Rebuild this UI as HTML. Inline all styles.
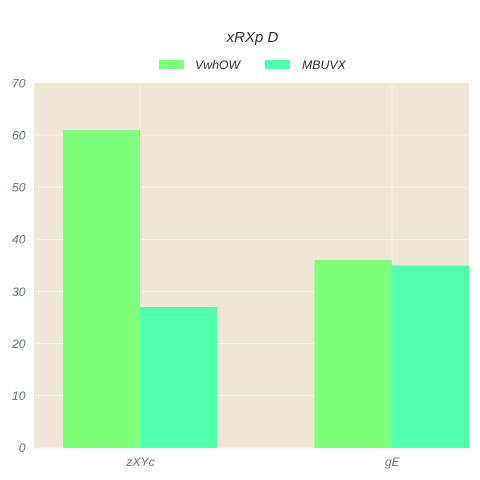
<!DOCTYPE html>
<html>
<head>
<meta charset="utf-8">
<title>xRXp D</title>
<style>
html,body{margin:0;padding:0;background:#fff;}
svg{display:block;}
text{font-family:"Liberation Sans",Arial,sans-serif;font-style:italic;}
</style>
</head>
<body>
<svg id="chart" width="480" height="480" viewBox="0 0 480 480" xmlns="http://www.w3.org/2000/svg">
<rect x="0" y="0" width="480" height="480" fill="#ffffff"/>
<text x="252.5" y="42" text-anchor="middle" font-size="15" fill="#333333">xRXp D</text>
<g id="plot"></g>
<g>
<g>
<rect x="159" y="60" width="25" height="9" fill="#80ff7b"/>
<text x="195" y="69" font-size="12.3" fill="#333333">VwhOW</text>
</g>
<g>
<rect x="265" y="60" width="25" height="9" fill="#4fffab"/>
<text x="302" y="69" font-size="12.3" fill="#333333">MBUVX</text>
</g>
</g>
</svg>
<script>
const categories = ['zXYc', 'gE'];
const seriesNames = ['VwhOW', 'MBUVX'];
const seriesColors = ['#80ff7b', '#4fffab'];
const valuesVwhOW = [61, 36];
const valuesMBUVX = [27, 35];
const yTicks = [0, 10, 20, 30, 40, 50, 60, 70];

const plotLeft = 34, plotRight = 469, plotTop = 83, plotBottom = 447.8;
const yMax = 70;
const barWidth = 77.4;
const svgNS = 'http://www.w3.org/2000/svg';
const plot = document.getElementById('plot');

function yScale(v) {
  return plotBottom - (v / yMax) * (plotBottom - plotTop);
}
function xScale(i) {
  return 140.2 + i * 251.8;
}
function make(tag, attrs) {
  const el = document.createElementNS(svgNS, tag);
  for (const k in attrs) el.setAttribute(k, attrs[k]);
  plot.appendChild(el);
  return el;
}

const bg = make('rect', {x: plotLeft, y: plotTop, width: plotRight - plotLeft, height: 448 - plotTop, fill: '#efe7d6', 'shape-rendering': 'crispEdges'});



yTicks.forEach(function (t) {
  const y = yScale(t);
  const line = make('line', {x1: plotLeft, x2: plotRight, y1: y, y2: y, stroke: '#f8f3e8', 'stroke-width': 1, 'shape-rendering': 'crispEdges'});
  
  
  const label = make('text', {x: 25.5, y: y + 4.4, 'text-anchor': 'end', 'font-size': 12.2, fill: '#647580'});
  label.textContent = t;
  
  
});

categories.forEach(function (c, i) {
  const x = xScale(i);
  const line = make('line', {x1: x, x2: x, y1: plotTop, y2: 448, stroke: '#f8f3e8', 'stroke-width': 1, 'shape-rendering': 'crispEdges'});
  
  
  const label = make('text', {x: x + 0.3, y: 466, 'text-anchor': 'middle', 'font-size': 12.2, fill: '#647580'});
  label.textContent = c;
  
  
});

[valuesVwhOW, valuesMBUVX].forEach(function (vals, s) {
  vals.forEach(function (v, i) {
    const x = xScale(i) + (s - 1) * barWidth;
    const y = yScale(v);
    const bar = make('rect', {x: x, y: y, width: barWidth, height: 448 - y, fill: seriesColors[s], 'shape-rendering': 'crispEdges'});
    
    
    const tip = document.createElementNS(svgNS, 'title');
    tip.textContent = seriesNames[s] + ' ' + categories[i] + ': ' + v;
    bar.appendChild(tip);
  });
});
</script>
</body>
</html>
